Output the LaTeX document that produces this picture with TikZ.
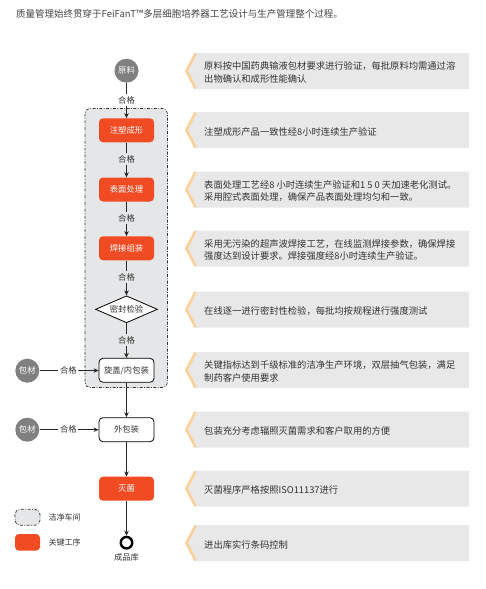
\documentclass[tikz,border=0pt]{standalone}
\usepackage{fontspec}
\setmainfont{Noto Sans CJK SC}
\usetikzlibrary{arrows.meta,shapes.geometric}
\definecolor{keyred}{HTML}{F04B23}
\definecolor{matgray}{HTML}{808080}
\definecolor{cleanfill}{HTML}{E5E6E8}
\definecolor{panelfill}{HTML}{E8E8E9}
\definecolor{chev}{HTML}{FBCF96}
\definecolor{txt}{HTML}{333333}
\definecolor{titletxt}{HTML}{444444}
\tikzset{
  keystep/.style={rectangle, rounded corners=4pt, fill=keyred, text=white, minimum width=55pt, minimum height=24pt, inner sep=0pt, font=\fontsize{8.3}{10}\selectfont},
  plainstep/.style={rectangle, rounded corners=4pt, draw=black, line width=0.8pt, fill=white, text=txt, minimum width=55pt, minimum height=24pt, inner sep=0pt, font=\fontsize{8.3}{10}\selectfont},
  matcircle/.style={circle, fill=matgray, text=white, minimum size=24pt, inner sep=0pt, font=\fontsize{8.3}{10}\selectfont},
  passlbl/.style={text=txt, inner sep=1.5pt, font=\fontsize{8.3}{10}\selectfont},
  conn/.style={line width=0.8pt, draw=black!85},
  arr/.style={conn, -{Stealth[length=5pt,width=4.5pt]}},
  cleanbox/.style={fill=cleanfill, draw=black!80, line width=0.7pt, rounded corners=5pt, dash pattern=on 3pt off 1.5pt on 0.8pt off 1.5pt},
  paneltxt/.style={anchor=west, align=left, text=txt, inner sep=0pt, font=\fontsize{9.3}{12.6}\selectfont},
  legtxt/.style={anchor=west, text=txt, inner sep=0pt, font=\fontsize{8}{10}\selectfont},
  checkstep/.style={diamond, aspect=2.3, draw=black, line width=0.8pt, fill=white, text=txt, minimum width=62pt, minimum height=27pt, inner sep=0pt, text height=6.3pt, text depth=0pt, font=\fontsize{8.3}{10}\selectfont}
}
\newcommand{\infopanel}[3]{%
  \fill[panelfill] (185,#2) -- (195,#2-18) -- (469,#2-18) -- (469,#2+18) -- (195,#2+18) -- cycle;
  \draw[chev, line width=2.5pt] (195.5,#2-17.5) -- (186.5,#2) -- (195.5,#2+17.5);
  \node[paneltxt] (#1) at (204,#2+1.5) {#3};
}
\begin{document}
\begin{tikzpicture}[x=1pt,y=-1pt]
\useasboundingbox (0,0) rectangle (485,589);

% title
\node[anchor=west, inner sep=0pt, text=titletxt, font=\fontsize{9.5}{12}\selectfont] (title) at (16,13.5) {质量管理始终贯穿于FeiFanT™多层细胞培养器工艺设计与生产管理整个过程。};

% clean room area
\draw[cleanbox] (85,108.5) rectangle (167.5,387.5);

% right panels
\infopanel{p1}{71}{原料按中国药典输液包材要求进行验证，每批原料均需通过溶\\出物确认和成形性能确认}
\infopanel{p2}{130}{注塑成形产品一致性经8小时连续生产验证}
\infopanel{p3}{189.5}{表面处理工艺经8 小时连续生产验证和1 5 0 天加速老化测试。\\采用腔式表面处理，确保产品表面处理均匀和一致。}
\infopanel{p4}{248.5}{采用无污染的超声波焊接工艺，在线监测焊接参数，确保焊接\\强度达到设计要求。焊接强度经8小时连续生产验证。}
\infopanel{p5}{309.5}{在线逐一进行密封性检验，每批均按规程进行强度测试}
\infopanel{p6}{370}{关键指标达到千级标准的洁净生产环境，双层抽气包装，满足\\制药客户使用要求}
\infopanel{p7}{429.5}{包装充分考虑辐照灭菌需求和客户取用的方便}
\infopanel{p8}{488.7}{灭菌程序严格按照ISO11137进行}
\infopanel{p9}{543}{进出库实行条码控制}

% flow nodes
\node[matcircle] (yl) at (126.5,70.7) {原料};
\node[keystep] (zs) at (126.5,130.3) {注塑成形};
\node[keystep] (bm) at (126.5,189.5) {表面处理};
\node[keystep] (hj) at (126.5,248.3) {焊接组装};
\node[checkstep] (mf) at (126.5,309.3) {密封检验};
\node[plainstep] (xg) at (126.5,370.3) {旋盖/内包装};
\node[plainstep] (wb) at (126.5,429.7) {外包装};
\node[keystep] (mj) at (126.5,488.7) {灭菌};
\node[circle, draw=black, line width=2.4pt, minimum size=11.5pt, inner sep=0pt] (cp) at (126.5,542.7) {};
\node[text=txt, inner sep=0pt, font=\fontsize{8.3}{10}\selectfont] (cpl) at (126.5,557) {成品库};

\node[matcircle] (bc1) at (27.3,370.7) {包材};
\node[matcircle] (bc2) at (27.3,429.7) {包材};

% pass labels
\node[passlbl] (g1) at (126.5,100) {合格};
\node[passlbl] (g2) at (126.5,159) {合格};
\node[passlbl] (g3) at (126.5,218) {合格};
\node[passlbl] (g4) at (126.5,277) {合格};
\node[passlbl] (g5) at (126.5,340) {合格};
\node[passlbl] (g6) at (68.3,370.7) {合格};
\node[passlbl] (g7) at (68.3,429.7) {合格};

% connectors
\draw[conn] (yl) -- (g1); \draw[arr] (g1) -- (zs);
\draw[conn] (zs) -- (g2); \draw[arr] (g2) -- (bm);
\draw[conn] (bm) -- (g3); \draw[arr] (g3) -- (hj);
\draw[conn] (hj) -- (g4); \draw[arr] (g4) -- (mf);
\draw[conn] (mf) -- (g5); \draw[arr] (g5) -- (xg);
\draw[conn] (bc1) -- (g6); \draw[arr] (g6) -- (xg);
\draw[conn] (bc2) -- (g7); \draw[arr] (g7) -- (wb);
\draw[arr] (xg) -- (wb);
\draw[arr] (wb) -- (mj);
\draw[arr] (mj) -- (cp);

% legend
\draw[cleanbox] (15,509.3) rectangle (40,525.3);
\node[legtxt] (lg1) at (48.5,517.3) {洁净车间};
\fill[keyred, rounded corners=4pt] (15,534) rectangle (40,550.7);
\node[legtxt] (lg2) at (48.5,542.3) {关键工序};
\end{tikzpicture}
\end{document}
